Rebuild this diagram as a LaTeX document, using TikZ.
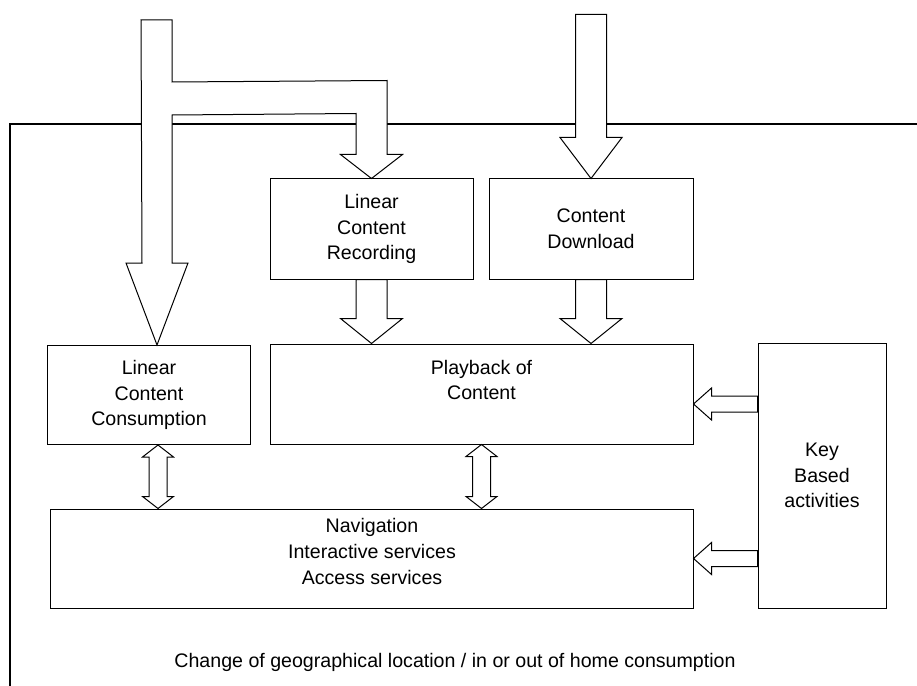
\documentclass[tikz,border=0pt]{standalone}
\usepackage{fontspec}
\setmainfont{Liberation Sans}
\usetikzlibrary{calc}

\tikzset{
  box/.style={draw,line width=1bp,align=center,inner sep=0pt},
  blockarrow/.style={draw,fill=white,line width=1bp,line join=miter},
  frameline/.style={line width=1.5bp}
}
% fat arrow pointing down: tip, total length, head length
\newcommand{\downblock}[3]{%
  \draw[blockarrow] (#1) -- ++(31,-#3) -- ++(-15.5,0) -- ++(0,{#3-#2}) -- ++(-31,0)
    -- ++(0,{#2-#3}) -- ++(-15.5,0) -- cycle;}
% fat arrow pointing left: tip, tail
\newcommand{\leftblock}[2]{%
  \draw[blockarrow] (#1) -- ++(18,-16) -- ++(0,8) -- ($(#2)+(0,-8)$) -- ++(0,16)
    -- ($(#1)+(18,8)$) -- ++(0,8) -- cycle;}
% thin double arrow: top tip, bottom tip
\newcommand{\updownblock}[2]{%
  \draw[blockarrow] (#1) -- ++(15.5,12) -- ++(-6.5,0) -- ($(#2)+(9,-12)$) -- ++(6.5,0)
    -- (#2) -- ++(-15.5,-12) -- ++(6.5,0) -- ($(#1)+(-9,12)$) -- ++(-6.5,0) -- cycle;}

\begin{document}
\begin{tikzpicture}[x=1bp,y=-1bp,font=\fontsize{19.6bp}{25.7bp}\selectfont]
\useasboundingbox (0,0) rectangle (917,686);

% boxes
\node[box,minimum width=202bp,minimum height=99bp] (cons) at (149,395) {Linear\\Content\\Consumption};
\node[box,minimum width=203bp,minimum height=100bp] (rec) at (371.5,229) {Linear\\Content\\Recording};
\node[box,minimum width=204bp,minimum height=100bp] (dl) at (591,229) {Content\\Download};
\node[box,minimum width=423bp,minimum height=100bp,
  label={[align=center,yshift=14bp]center:Playback of\\Content}] (play) at (481.5,394) {};
\node[box,minimum width=128bp,minimum height=265bp] (key) at (822,475.5) {Key\\Based\\activities};
\node[box,minimum width=642bp,minimum height=99bp,
  label={[align=center,yshift=7bp]center:Navigation\\Interactive services\\Access services}] (nav) at (372,558.5) {};
\node (caption) at (455,662) {Change of geographical location / in or out of home consumption};

% frame
\draw[frameline] (10,686) -- (10,124) -- (917,124);

% incoming arrows from the top
\coordinate (srcA) at (157,20);
\coordinate (srcB) at (592.5,16);
\draw[blockarrow] ($(srcA)+(-16,0)$) -- ++(31,0) -- ++(0,62) -- ($(rec.north)+(15.5,-98)$)
  -- ++(0,74) -- ++(15.5,0) -- (rec.north) -- ++(-31,-24) -- ++(15.5,0) -- ++(0,-41)
  -- ($(srcA)+(15,95)$) -- ($(cons.north)+(23,-82)$) -- ++(16,0) -- ($(cons.north)+(8,0)$)
  -- ++(-31,-82) -- ++(16,0) -- cycle;
\downblock{dl.north}{164}{41}

% into playback
\downblock{rec.south |- play.north}{64}{25}
\downblock{dl.south |- play.north}{64}{25}

% key based activities
\coordinate (keyplay) at ($(key.west)+(0,-71.5)$);
\coordinate (playkey) at (play.east |- keyplay);
\leftblock{playkey}{keyplay}
\leftblock{nav.east}{key.west |- nav.east}

% two-way links
\coordinate (consnav) at ($(cons.south)+(9,0)$);
\coordinate (navcons) at (consnav |- nav.north);
\updownblock{consnav}{navcons}
\updownblock{play.south}{play.south |- nav.north}
\end{tikzpicture}
\end{document}
